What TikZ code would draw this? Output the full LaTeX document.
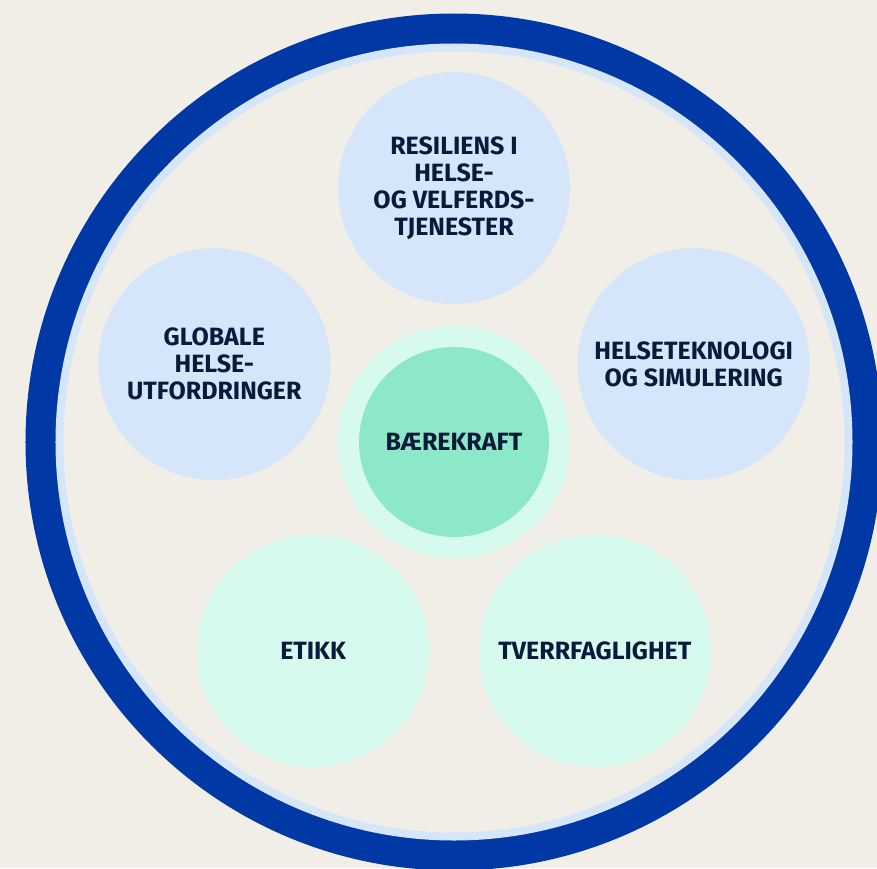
\documentclass[tikz,border=0pt]{standalone}
\usepackage{fontspec}
\setmainfont{Fira Sans}
\usetikzlibrary{positioning}
\definecolor{paper}{HTML}{F1EDE7}
\definecolor{ringblue}{HTML}{0039A6}
\definecolor{paleblue}{HTML}{D5E5FA}
\definecolor{palemint}{HTML}{D7FAEF}
\definecolor{coremint}{HTML}{8DE8C9}
\definecolor{inkblue}{HTML}{0B1A3A}
\tikzset{
  topic/.style={circle, minimum size=232pt, inner sep=0pt, align=center,
                text=inkblue, font=\fontsize{25}{27}\selectfont\bfseries},
  bluetopic/.style={topic, fill=paleblue},
  minttopic/.style={topic, fill=palemint},
  core/.style={topic, fill=coremint, minimum size=190pt}
}
\begin{document}
\begin{tikzpicture}[x=1pt, y=1pt]
  % page and frame
  \useasboundingbox (-454,-426) rectangle (423,442);
  \clip (-454,-426) rectangle (423,442);
  \fill[paper] (-454,-426) rectangle (423,442);
  \fill[ringblue] (0,0) circle (428.5);
  \fill[paleblue] (0,0) circle (398.5);
  \fill[paper] (0,0) circle (390.5);
  % centre
  \node[minttopic] (halo) at (0,0) {};
  \node[core] (kraft) at (halo) {BÆREKRAFT};
  % themes round the centre
  \node[bluetopic] (resil) at (90:254) {RESILIENS I\\HELSE-\\OG VELFERDS-\\TJENESTER};
  \node[bluetopic] (global) at (162:252) {GLOBALE\\HELSE-\\UTFORDRINGER};
  \node[bluetopic] (tekn) at (18:252) {HELSETEKNOLOGI\\OG SIMULERING};
  \node[minttopic] (etikk) at (236:252) {ETIKK};
  \node[minttopic] (tverr) at (304:252) {TVERRFAGLIGHET};
\end{tikzpicture}
\end{document}
